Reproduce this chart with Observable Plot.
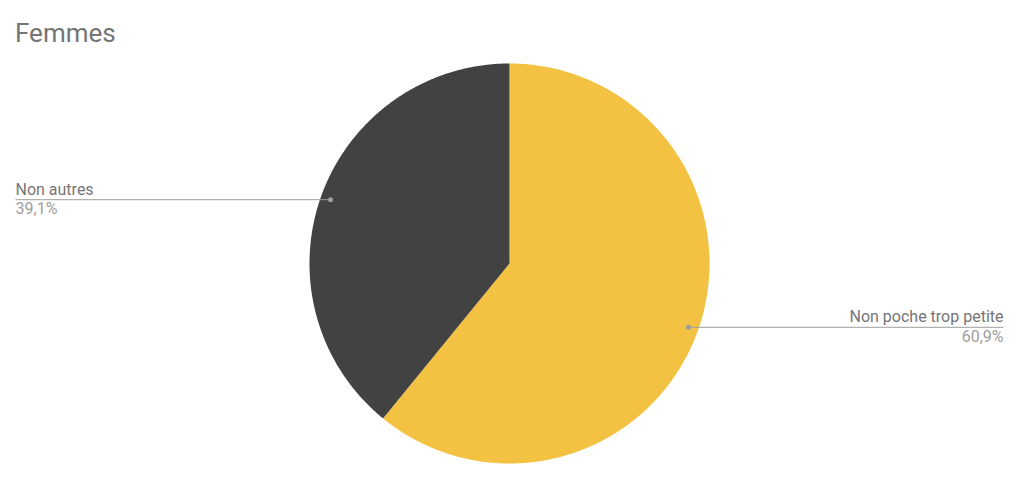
<!DOCTYPE html>
<html>
<head>
<meta charset="utf-8">
<script src="https://cdn.jsdelivr.net/npm/d3@7"></script>
<script src="https://cdn.jsdelivr.net/npm/@observablehq/plot@0.6"></script>
<style>
  html, body { margin: 0; padding: 0; background: #fff; }
  #title { font-family: Roboto, sans-serif; font-size: 26px; color: #757575; height: 50px; line-height: 26px; padding-top: 20px; padding-left: 15px; box-sizing: border-box; overflow: visible; }
</style>
</head>
<body>
<div id="title">Femmes</div>
<div id="chart"></div>
<script>
const title = "Femmes";
const labels = ["Non poche trop petite", "Non autres"];
const values = [60.9, 39.1];
const colors = ["#f3c242", "#424242"];

const arcs = d3.pie().sort(null).value(d => d.value)(labels.map((label, i) => ({label, value: values[i]})));

// polygon points of each slice (center + arc samples), in unit coordinates
const slicePts = [];
arcs.forEach(a => {
  slicePts.push({label: a.data.label, x: 0, y: 0});
  const n = Math.max(2, Math.ceil((a.endAngle - a.startAngle) / (Math.PI / 360)));
  for (let k = 0; k <= n; k++) {
    const t = a.startAngle + (a.endAngle - a.startAngle) * k / n;
    slicePts.push({label: a.data.label, x: Math.sin(t), y: Math.cos(t)});
  }
});

const XEDGE = 2.47;
const labelData = arcs.map(a => {
  const m = (a.startAngle + a.endAngle) / 2;
  const x = 0.95 * Math.sin(m), y = 0.95 * Math.cos(m);
  const right = x > 0;
  return {
    label: a.data.label,
    pct: a.data.value.toFixed(1).replace(".", ",") + "%",
    x, y, right, xe: right ? XEDGE : -XEDGE
  };
});
const L = labelData.filter(d => !d.right), R = labelData.filter(d => d.right);

const plot = Plot.plot({
  width: 1024,
  height: 434,
  marginLeft: 15,
  marginRight: 21,
  marginTop: 13,
  marginBottom: 21,
  x: {domain: [-XEDGE, XEDGE], axis: null},
  y: {domain: [-1, 1], axis: null},
  color: {domain: labels, range: colors},
  style: {fontFamily: "Roboto, sans-serif", background: "#fff"},
  marks: [
    Plot.line(slicePts, {x: "x", y: "y", z: "label", fill: "label", stroke: "none", curve: "linear-closed"}),
    Plot.link(labelData, {x1: "x", y1: "y", x2: "xe", y2: "y", stroke: "#9e9e9e", strokeWidth: 1}),
    Plot.dot(labelData, {x: "x", y: "y", r: 2.5, fill: "#9e9e9e", stroke: "none"}),
    Plot.text(L, {y: "y", text: "label", frameAnchor: "left", textAnchor: "start", lineAnchor: "bottom", dy: -5, fontSize: 16, fill: "#757575"}),
    Plot.text(L, {y: "y", text: "pct", frameAnchor: "left", textAnchor: "start", lineAnchor: "bottom", dy: 14.5, fontSize: 16, fill: "#9e9e9e"}),
    Plot.text(R, {y: "y", text: "label", frameAnchor: "right", textAnchor: "end", lineAnchor: "bottom", dy: -5, fontSize: 16, fill: "#757575"}),
    Plot.text(R, {y: "y", text: "pct", frameAnchor: "right", textAnchor: "end", lineAnchor: "bottom", dy: 14.5, fontSize: 16, fill: "#9e9e9e"})
  ]
});
document.getElementById("chart").appendChild(plot);
</script>
</body>
</html>
